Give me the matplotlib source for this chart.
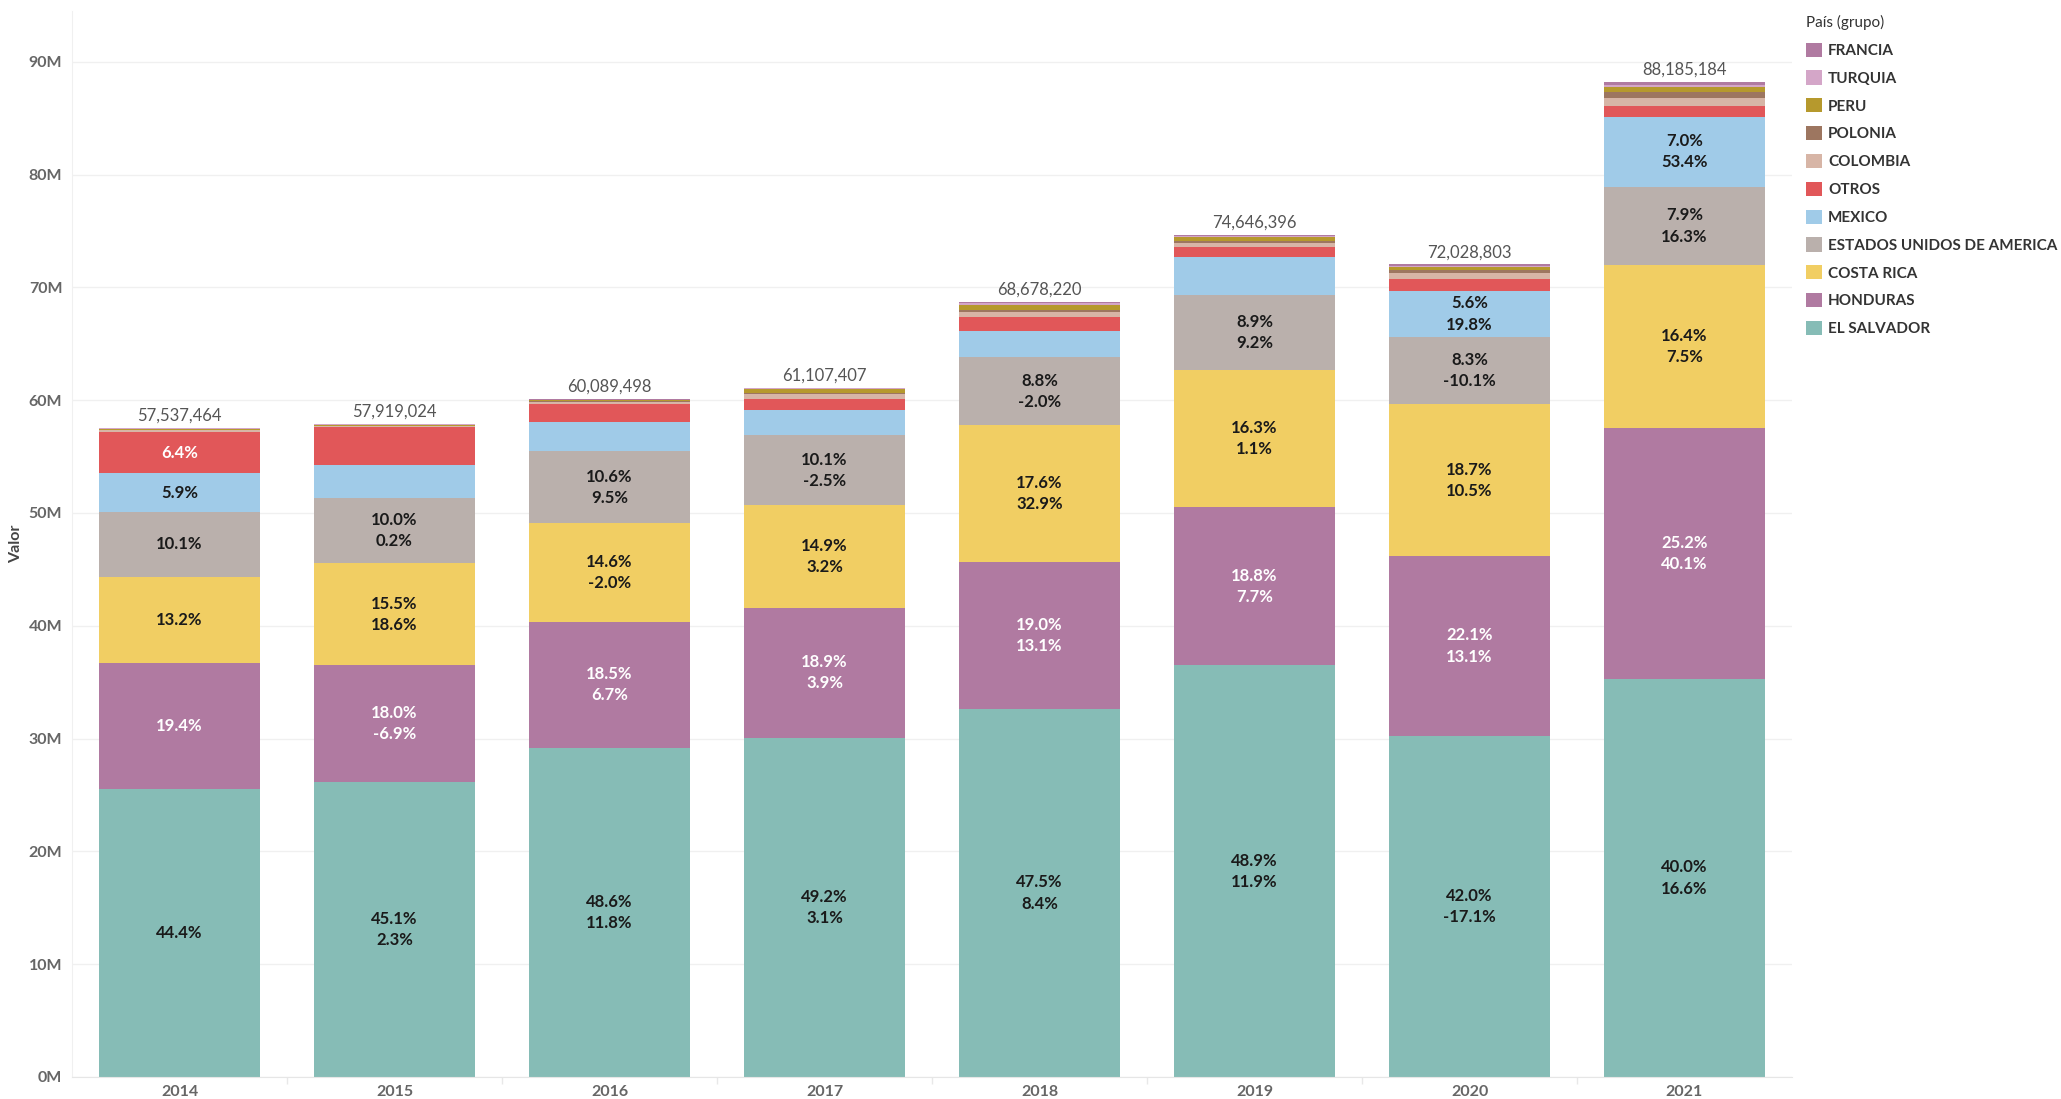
import numpy as np
import matplotlib
matplotlib.use("Agg")
import matplotlib.pyplot as plt
from matplotlib.patches import Patch

years = ["2014", "2015", "2016", "2017", "2018", "2019", "2020", "2021"]
totals = [57537464, 57919024, 60089498, 61107407, 68678220, 74646396, 72028803, 88185184]

# stacking order, bottom to top
countries = ["EL SALVADOR", "HONDURAS", "COSTA RICA", "ESTADOS UNIDOS DE AMERICA",
             "MEXICO", "OTROS", "COLOMBIA", "POLONIA", "PERU", "TURQUIA", "FRANCIA"]
colors = ["#86BCB6", "#B07AA1", "#F1CE63", "#BAB0AC", "#A0CBE8", "#E15759",
          "#D7B5A6", "#9D7660", "#B6992D", "#D4A6C8", "#B07AA1"]
white_text = ["HONDURAS", "OTROS"]

# share of the year total, %
share_es = [44.4, 45.1, 48.6, 49.2, 47.5, 48.9, 42.0, 40.0]
share_hn = [19.4, 18.0, 18.5, 18.9, 19.0, 18.8, 22.1, 25.2]
share_cr = [13.2, 15.5, 14.6, 14.9, 17.6, 16.3, 18.7, 16.4]
share_us = [10.1, 10.0, 10.6, 10.1, 8.8, 8.9, 8.3, 7.9]
share_mx = [5.9, 5.1, 4.3, 3.6, 3.35, 4.5, 5.6, 7.0]
share_ot = [6.4, 5.8, 2.7, 1.6, 1.8, 1.2, 1.55, 1.1]
share_co = [0.25, 0.15, 0.35, 0.8, 0.7, 0.5, 0.7, 0.8]
share_pl = [0.05, 0.05, 0.05, 0.15, 0.25, 0.2, 0.35, 0.6]
share_pe = [0.2, 0.1, 0.2, 0.55, 0.7, 0.45, 0.4, 0.5]
share_tr = [0.05, 0.15, 0.05, 0.1, 0.15, 0.1, 0.15, 0.25]
share_fr = [0.05, 0.05, 0.05, 0.1, 0.15, 0.15, 0.15, 0.25]

# growth vs previous year, % (only where shown)
growth_es = [None, 2.3, 11.8, 3.1, 8.4, 11.9, -17.1, 16.6]
growth_hn = [None, -6.9, 6.7, 3.9, 13.1, 7.7, 13.1, 40.1]
growth_cr = [None, 18.6, -2.0, 3.2, 32.9, 1.1, 10.5, 7.5]
growth_us = [None, 0.2, 9.5, -2.5, -2.0, 9.2, -10.1, 16.3]
growth_mx = [None, None, None, None, None, None, 19.8, 53.4]
none8 = [None] * 8

shares = [share_es, share_hn, share_cr, share_us, share_mx, share_ot,
          share_co, share_pl, share_pe, share_tr, share_fr]
growths = [growth_es, growth_hn, growth_cr, growth_us, growth_mx,
           none8, none8, none8, none8, none8, none8]

plt.rcParams["font.family"] = ["Lato", "DejaVu Sans"]

W, H = 2061, 1099
fig = plt.figure(figsize=(W / 100, H / 100), dpi=100)
ax = fig.add_axes([72 / W, 22 / H, (1792 - 72) / W, (1077 - 11) / H])

x = np.arange(len(years))
tot = np.array(totals, dtype=float)
bottom = np.zeros(len(years))
for ci, name in enumerate(countries):
    vals = np.array(shares[ci]) / 100 * tot
    ax.bar(x, vals, 0.75, bottom=bottom, color=colors[ci], linewidth=0, zorder=2)
    for i in range(len(years)):
        g = growths[ci][i]
        lines = ["%.1f%%" % shares[ci][i]]
        if g is not None:
            lines.append("%.1f%%" % g)
        need = 3.0e6 if i == 0 else 3.8e6
        if vals[i] < need:
            continue
        col = "white" if name in white_text else "#1a1a1a"
        yc = bottom[i] + vals[i] / 2
        offs = [0] if len(lines) == 1 else [7.6, -7.6]
        for t, o in zip(lines, offs):
            ax.annotate(t, (x[i], yc), xytext=(0, o), textcoords="offset points",
                        ha="center", va="center", fontsize=12, fontweight="bold",
                        color=col, zorder=3)
    bottom += vals

for i in range(len(years)):
    ax.annotate("{:,}".format(totals[i]), (x[i], totals[i]), xytext=(0, 3),
                textcoords="offset points", ha="center", va="bottom",
                fontsize=12, color="#555555", zorder=3)

ax.set_xlim(-0.5, len(years) - 0.5)
ax.set_ylim(0, 94.5e6)
ax.set_yticks(np.arange(0, 91e6, 10e6))
ax.set_yticklabels(["%dM" % v for v in range(0, 100, 10)])
ax.set_xticks(x)
ax.set_xticklabels(years)
ax.set_xticks(np.arange(0.5, len(years) - 1, 1), minor=True)
ax.tick_params(axis="both", which="major", length=0, labelsize=11.5, labelcolor="#666666")
ax.tick_params(axis="y", pad=7)
ax.tick_params(axis="x", pad=6)
ax.tick_params(axis="x", which="minor", length=5, color="#e8e8e8", width=1)
for lab in ax.get_xticklabels() + ax.get_yticklabels():
    lab.set_fontweight("bold")
ax.grid(axis="y", color="#f0f0f0", linewidth=1, zorder=0)
for s in ["top", "right"]:
    ax.spines[s].set_visible(False)
ax.spines["left"].set_color("#f0f0f0")
ax.spines["bottom"].set_color("#e6e6e6")
ax.set_ylabel("Valor", fontsize=11.5, fontweight="bold", color="#444444")
ax.yaxis.set_label_coords(-0.0285, 0.5)

handles = [Patch(facecolor=colors[i], edgecolor="none") for i in range(len(countries))][::-1]
leg = fig.legend(handles, countries[::-1], loc="upper left",
                 bbox_to_anchor=(1806 / W, 1 - 15 / H), frameon=False,
                 title="País (grupo)", alignment="left",
                 prop={"size": 11, "weight": "bold"}, title_fontsize=11,
                 handlelength=1.05, handleheight=1.05, handletextpad=0.4,
                 labelspacing=0.82, borderpad=0, borderaxespad=0)
for t in leg.get_texts():
    t.set_color("#333333")
leg.get_title().set_color("#333333")

fig.savefig("out.png", dpi=100)
